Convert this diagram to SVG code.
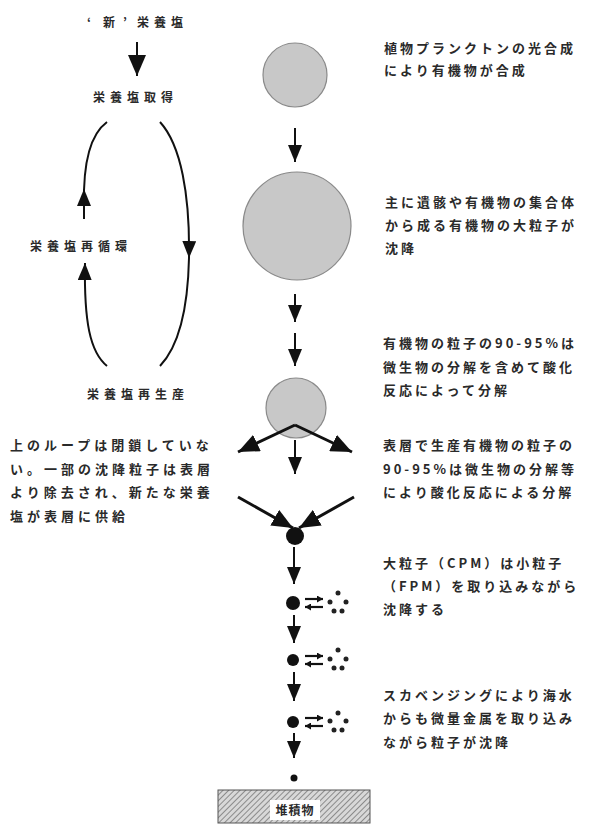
<svg xmlns="http://www.w3.org/2000/svg" width="591" height="828" viewBox="0 0 591 828">
<style>
text{font-family:"Noto Sans CJK JP","Noto Sans CJK SC",sans-serif;font-weight:bold;fill:#2a2a2a}
.t{font-size:13px;letter-spacing:3px}
.l{font-size:13px;letter-spacing:4px}
.s{font-size:12px;letter-spacing:5px}
.ln{stroke:#111;stroke-width:2;fill:none}
.thick{stroke:#111;stroke-width:3;fill:none}
.p{fill:#c8c8c8;stroke:#8a8a8a;stroke-width:1.2}
.dot{fill:#111}
.fd{fill:#222}
.ex{stroke:#111;stroke-width:2.2;fill:none}
</style>
<defs>
<marker id="ah" markerUnits="userSpaceOnUse" markerWidth="18" markerHeight="14" refX="17" refY="7" orient="auto" viewBox="0 0 18 14"><path d="M0,0 L17,7 L0,14 z" fill="#111"/></marker>
<marker id="ahb" markerUnits="userSpaceOnUse" markerWidth="22" markerHeight="18" refX="21" refY="9" orient="auto" viewBox="0 0 22 18"><path d="M0,0 L21,9 L0,18 z" fill="#111"/></marker>
<marker id="ahs" markerUnits="userSpaceOnUse" markerWidth="7" markerHeight="7" refX="6" refY="3.5" orient="auto" viewBox="0 0 7 7"><path d="M0,0 L6,3.5 L0,7 z" fill="#111"/></marker>
<pattern id="hatch" patternUnits="userSpaceOnUse" width="4" height="4" patternTransform="rotate(45)"><rect width="4" height="4" fill="#d8d8d8"/><line x1="0" y1="0" x2="0" y2="4" stroke="#777" stroke-width="1.6"/></pattern>
</defs>

<g id="label-new">
<text class="s" y="27"><tspan x="87">‘</tspan><tspan x="103">新</tspan><tspan x="123">’</tspan><tspan x="137">栄養塩</tspan></text>
</g>
<g id="label-uptake"><text class="s" x="93" y="102">栄養塩取得</text></g>
<g id="label-recycle"><text class="s" x="30" y="251">栄養塩再循環</text></g>
<g id="label-regen"><text class="s" x="87" y="399">栄養塩再生産</text></g>

<g id="particle1"><circle class="p" cx="295" cy="75" r="32"/></g>
<g id="particle2"><circle class="p" cx="297" cy="226" r="54"/></g>
<g id="particle3"><circle class="p" cx="296" cy="408" r="30"/></g>
<g id="particle4"><circle class="dot" cx="295" cy="536" r="9"/></g>
<g id="particle5"><circle class="dot" cx="293" cy="603" r="7"/>
<g class="fpm"><circle class="fd" cx="338" cy="593" r="2.5"/><circle class="fd" cx="330" cy="602" r="2.5"/><circle class="fd" cx="346" cy="602" r="2.5"/><circle class="fd" cx="334" cy="611" r="2.5"/><circle class="fd" cx="342" cy="611" r="2.5"/></g></g>
<g id="particle6"><circle class="dot" cx="293" cy="660" r="6"/>
<g class="fpm"><circle class="fd" cx="338" cy="650" r="2.5"/><circle class="fd" cx="330" cy="659" r="2.5"/><circle class="fd" cx="346" cy="659" r="2.5"/><circle class="fd" cx="334" cy="668" r="2.5"/><circle class="fd" cx="342" cy="668" r="2.5"/></g></g>
<g id="particle7"><circle class="dot" cx="293" cy="722" r="6"/>
<g class="fpm"><circle class="fd" cx="338" cy="713" r="2.5"/><circle class="fd" cx="330" cy="721" r="2.5"/><circle class="fd" cx="346" cy="721" r="2.5"/><circle class="fd" cx="334" cy="730" r="2.5"/><circle class="fd" cx="342" cy="730" r="2.5"/></g></g>
<g id="particle8"><circle class="dot" cx="294" cy="778" r="3.5"/></g>

<g id="connectors">
<line class="ln" x1="137" y1="42" x2="137" y2="76" marker-end="url(#ahb)"/>
<path class="ln" d="M107,122 C92,133 83,160 84,205"/>
<line class="ln" x1="84" y1="219" x2="84" y2="189" marker-end="url(#ah)"/>
<path class="ln" d="M107,366 C90,352 84,322 85,263" marker-end="url(#ah)"/>
<path class="ln" d="M160,122 C181,145 190,195 189,258 C188,305 180,345 160,366" marker-mid="url(#ah)"/>
<line class="ln" x1="295" y1="128" x2="295" y2="162" marker-end="url(#ah)"/>
<line class="ln" x1="295" y1="294" x2="295" y2="322" marker-end="url(#ah)"/>
<line class="ln" x1="295" y1="333" x2="295" y2="366" marker-end="url(#ah)"/>
<line class="thick" x1="295" y1="425" x2="238" y2="452" marker-end="url(#ahb)"/>
<line class="thick" x1="295" y1="425" x2="352" y2="452" marker-end="url(#ahb)"/>
<line class="ln" x1="295" y1="440" x2="295" y2="474" marker-end="url(#ah)"/>
<line class="thick" x1="238" y1="497" x2="293" y2="528" marker-end="url(#ahb)"/>
<line class="thick" x1="354" y1="497" x2="299" y2="528" marker-end="url(#ahb)"/>
<line class="ln" x1="294" y1="547" x2="294" y2="584" marker-end="url(#ah)"/>
<line class="ln" x1="294" y1="615" x2="294" y2="643" marker-end="url(#ah)"/>
<line class="ln" x1="294" y1="672" x2="294" y2="701" marker-end="url(#ah)"/>
<line class="ln" x1="294" y1="733" x2="294" y2="758" marker-end="url(#ah)"/>
<line class="ex" x1="305" y1="599" x2="323" y2="599" marker-end="url(#ahs)"/>
<line class="ex" x1="323" y1="607" x2="305" y2="607" marker-end="url(#ahs)"/>
<line class="ex" x1="305" y1="656" x2="323" y2="656" marker-end="url(#ahs)"/>
<line class="ex" x1="323" y1="664" x2="305" y2="664" marker-end="url(#ahs)"/>
<line class="ex" x1="305" y1="718" x2="323" y2="718" marker-end="url(#ahs)"/>
<line class="ex" x1="323" y1="726" x2="305" y2="726" marker-end="url(#ahs)"/>
</g>

<g id="sediment">
<rect x="218" y="790" width="152" height="33" fill="url(#hatch)" stroke="#555" stroke-width="1"/>
<rect x="270" y="800" width="50" height="20" fill="#fff"/>
<text x="295" y="815" style="font-size:12px;letter-spacing:1px" text-anchor="middle">堆積物</text>
</g>

<g id="note1">
<text class="t" x="384" y="53">植物プランクトンの光合成</text>
<text class="t" x="384" y="75">により有機物が合成</text>
</g>
<g id="note2">
<text class="t" x="385" y="207">主に遺骸や有機物の集合体</text>
<text class="t" x="385" y="230">から成る有機物の大粒子が</text>
<text class="t" x="385" y="253">沈降</text>
</g>
<g id="note3">
<text class="t" x="383" y="348">有機物の粒子の90-95%は</text>
<text class="t" x="383" y="372">微生物の分解を含めて酸化</text>
<text class="t" x="383" y="395">反応によって分解</text>
</g>
<g id="note4">
<text class="l" x="10" y="450">上のループは閉鎖していな</text>
<text class="l" x="10" y="474">い。一部の沈降粒子は表層</text>
<text class="l" x="10" y="497">より除去され、新たな栄養</text>
<text class="l" x="10" y="521">塩が表層に供給</text>
</g>
<g id="note5">
<text class="t" x="383" y="450">表層で生産有機物の粒子の</text>
<text class="t" x="383" y="474">90-95%は微生物の分解等</text>
<text class="t" x="383" y="497">により酸化反応による分解</text>
</g>
<g id="note6">
<text class="t" x="383" y="568">大粒子（CPM）は小粒子</text>
<text class="t" x="383" y="591">（FPM）を取り込みながら</text>
<text class="t" x="383" y="614">沈降する</text>
</g>
<g id="note7">
<text class="t" x="383" y="700">スカベンジングにより海水</text>
<text class="t" x="383" y="723">からも微量金属を取り込み</text>
<text class="t" x="383" y="747">ながら粒子が沈降</text>
</g>
</svg>
